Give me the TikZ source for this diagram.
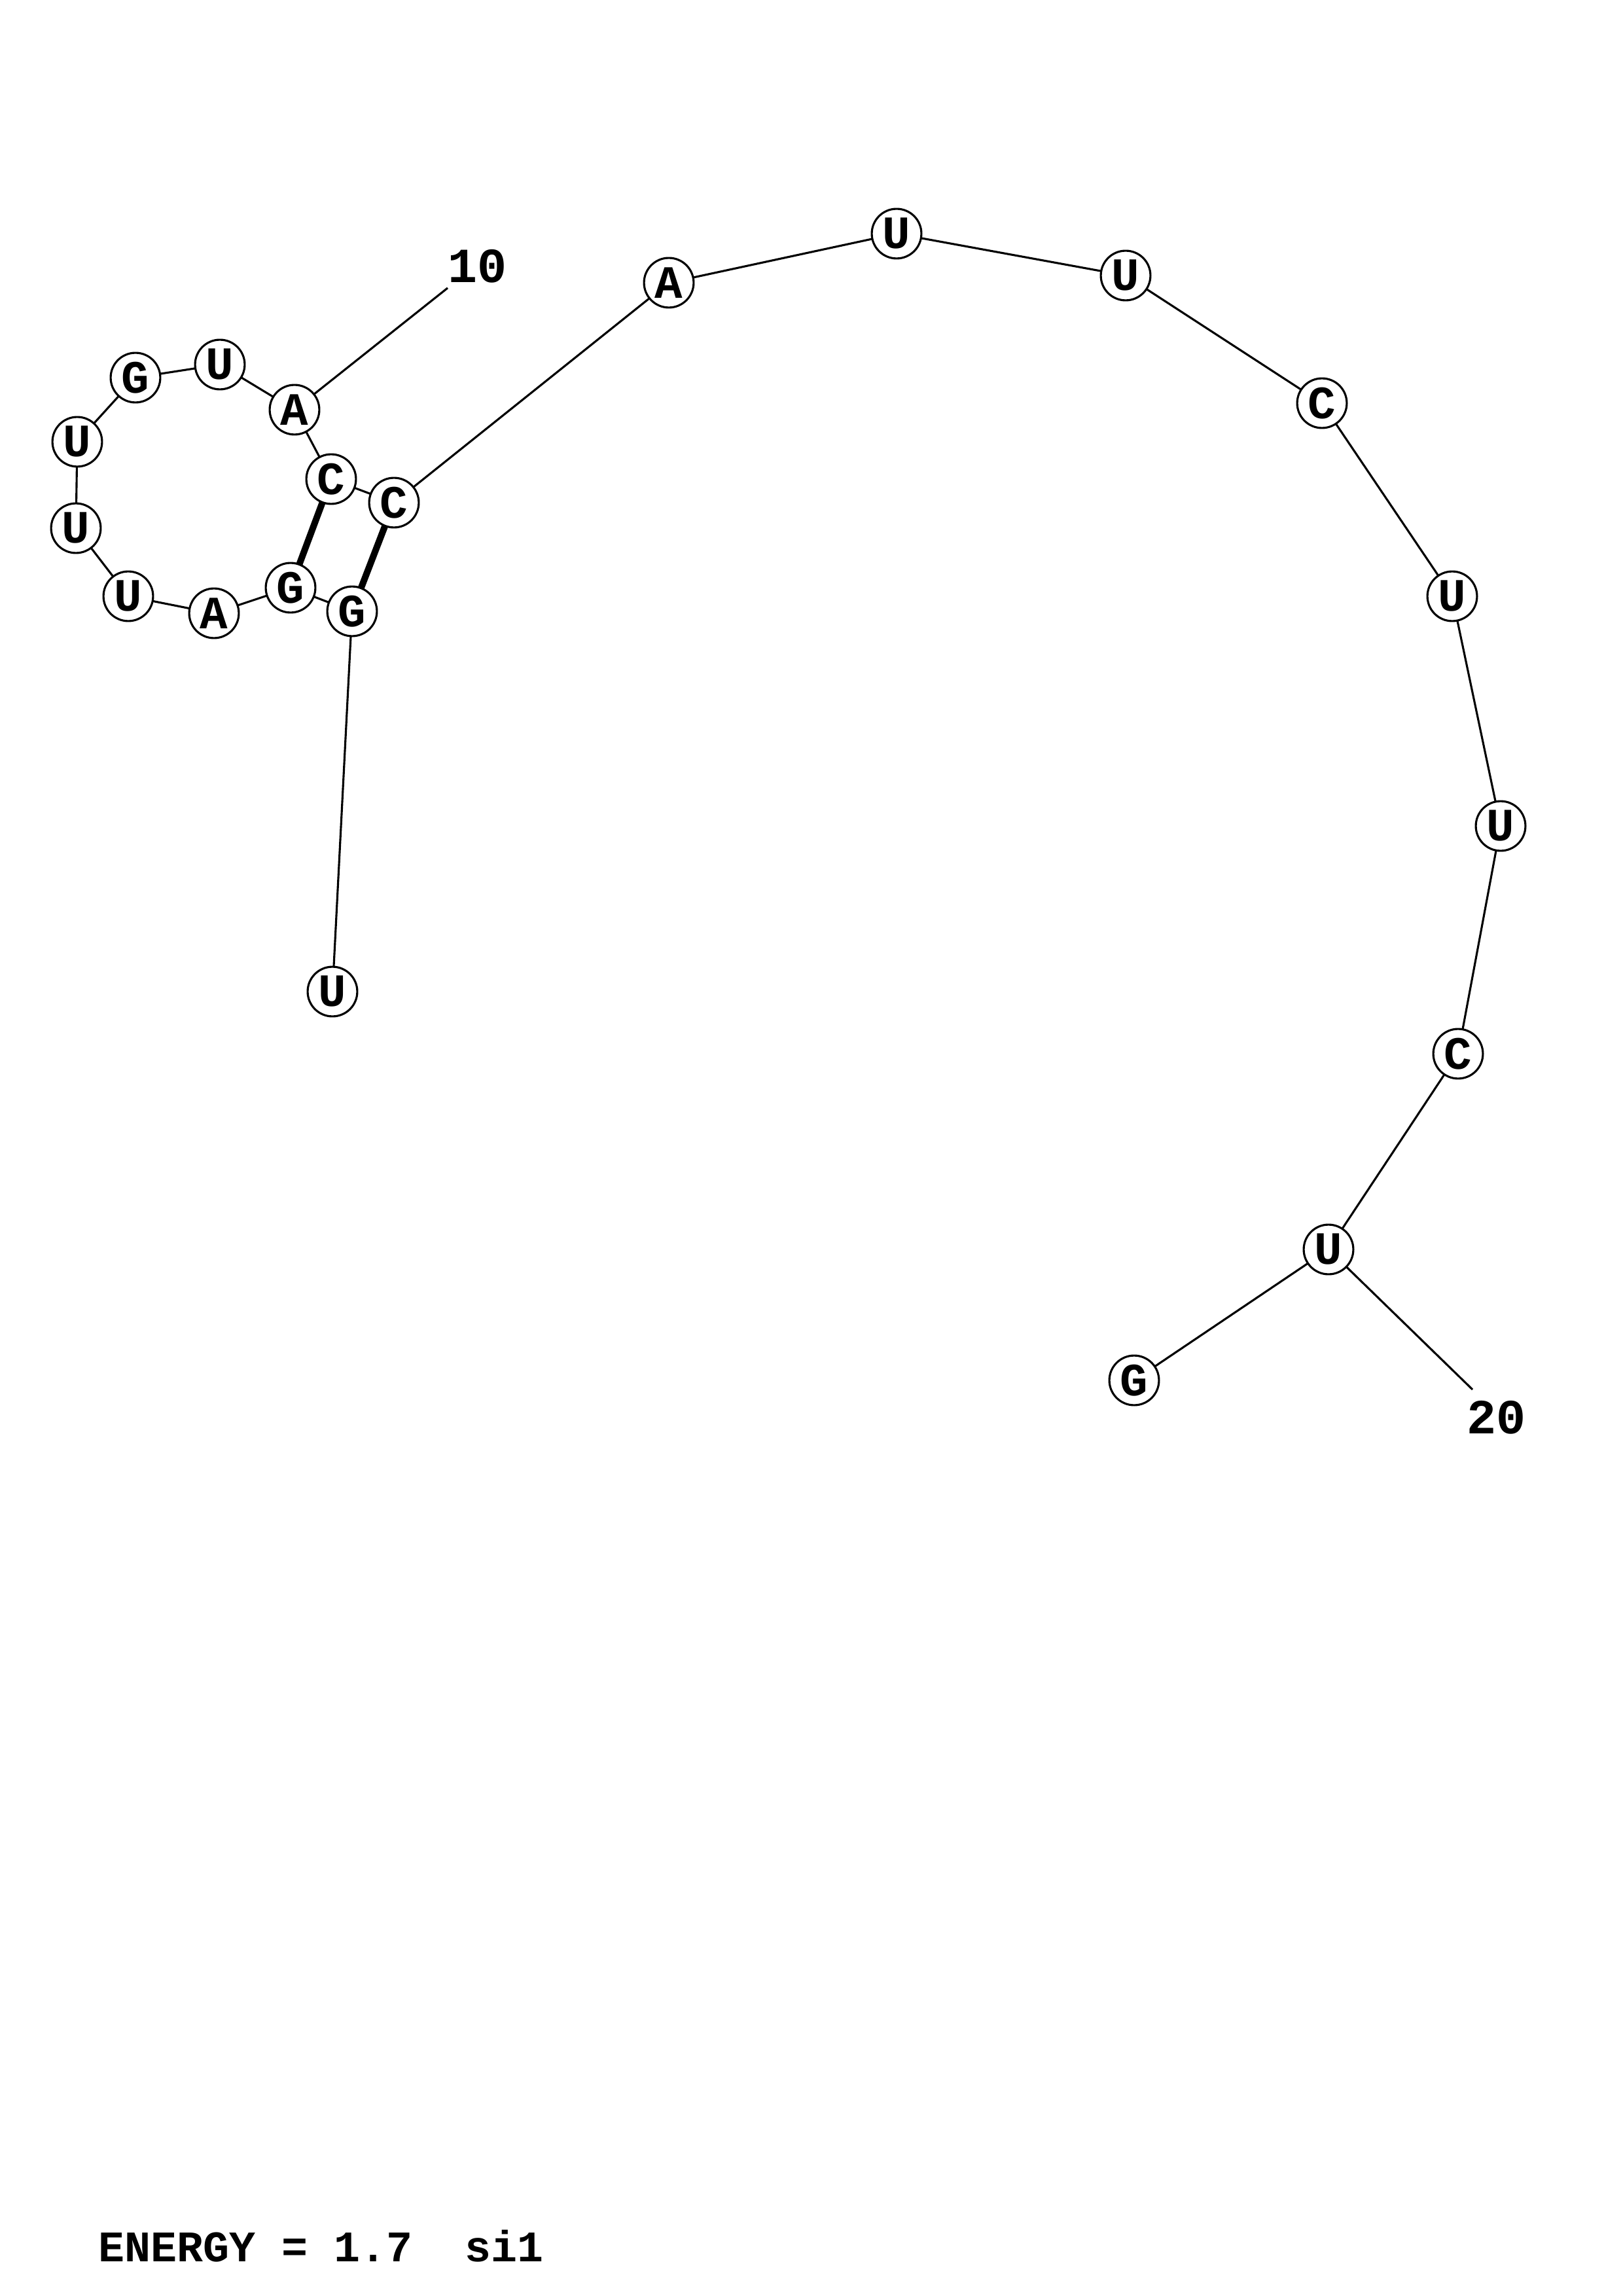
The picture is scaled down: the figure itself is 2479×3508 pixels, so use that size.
\documentclass[tikz,border=0pt]{standalone}
\usepackage{fontspec}
\newfontfamily\rnafont{Liberation Mono}
\begin{document}
\begin{tikzpicture}[x=0.24pt,y=-0.24pt,
  base/.style={circle,draw,fill=white,line width=0.75pt,minimum size=18.2pt,inner sep=0pt,font=\rnafont\bfseries\fontsize{17}{17}\selectfont},
  bb/.style={line width=0.75pt},
  pair/.style={line width=2.4pt},
  lbl/.style={font=\rnafont\bfseries\fontsize{18}{18}\selectfont}]
\useasboundingbox (0,0) rectangle (2479,3508);
% backbone coordinates
\coordinate (p1) at (508,1515);
\coordinate (p2) at (538,934);
\coordinate (p3) at (444,898);
\coordinate (p4) at (327,937);
\coordinate (p5) at (196,911);
\coordinate (p6) at (116,807);
\coordinate (p7) at (118,675);
\coordinate (p8) at (207,577);
\coordinate (p9) at (336,557);
\coordinate (p10) at (450,626);
\coordinate (p11) at (506,732);
\coordinate (p12) at (602,768);
\coordinate (p13) at (1022,432);
\coordinate (p14) at (1370,357);
\coordinate (p15) at (1720,421);
\coordinate (p16) at (2020,616);
\coordinate (p17) at (2219,911);
\coordinate (p18) at (2293,1262);
\coordinate (p19) at (2228,1610);
\coordinate (p20) at (2030,1909);
\coordinate (p21) at (1733,2109);
\coordinate (t10) at (684,440);
\coordinate (t20) at (2250,2123);
% connectors
\draw[bb] (p1) -- (p2) -- (p3) -- (p4) -- (p5) -- (p6) -- (p7) -- (p8) -- (p9) -- (p10) -- (p11) -- (p12) -- (p13) -- (p14) -- (p15) -- (p16) -- (p17) -- (p18) -- (p19) -- (p20) -- (p21);
\draw[bb] (p10) -- (t10);
\draw[bb] (p20) -- (t20);
\draw[pair] (p11) -- (p3);
\draw[pair] (p12) -- (p2);
% nodes
\node[base] (n1) at (p1) {U};
\node[base] (n2) at (p2) {G};
\node[base] (n3) at (p3) {G};
\node[base] (n4) at (p4) {A};
\node[base] (n5) at (p5) {U};
\node[base] (n6) at (p6) {U};
\node[base] (n7) at (p7) {U};
\node[base] (n8) at (p8) {G};
\node[base] (n9) at (p9) {U};
\node[base] (n10) at (p10) {A};
\node[base] (n11) at (p11) {C};
\node[base] (n12) at (p12) {C};
\node[base] (n13) at (p13) {A};
\node[base] (n14) at (p14) {U};
\node[base] (n15) at (p15) {U};
\node[base] (n16) at (p16) {C};
\node[base] (n17) at (p17) {U};
\node[base] (n18) at (p18) {U};
\node[base] (n19) at (p19) {C};
\node[base] (n20) at (p20) {U};
\node[base] (n21) at (p21) {G};
\node[lbl] (l10) at (729,407) {10};
\node[lbl] (l20) at (2286,2166) {20};
\node[lbl,anchor=base west,inner sep=0pt,font=\rnafont\bfseries\fontsize{16}{16}\selectfont] (energy) at (150,3455) {ENERGY = 1.7\ \ si1};
\end{tikzpicture}
\end{document}
